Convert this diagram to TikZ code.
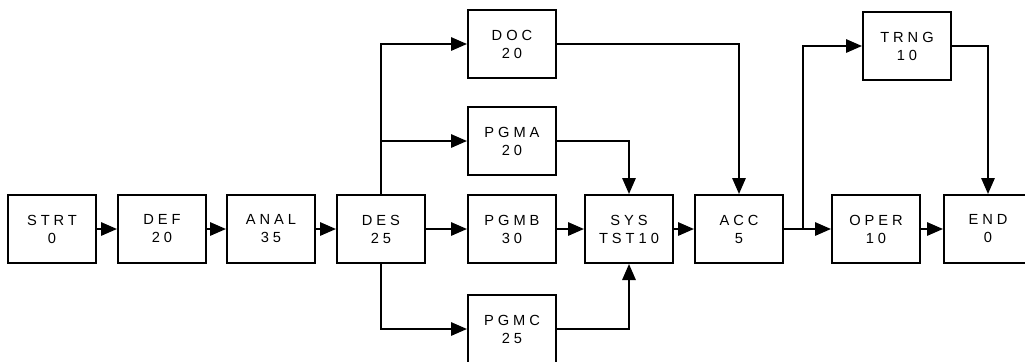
\documentclass[tikz,border=0pt]{standalone}
\usepackage{fontspec}
\newfontfamily\boxfont{Liberation Sans}[LetterSpace=27]
\usetikzlibrary{arrows.meta}

\begin{document}
\begin{tikzpicture} [
                x=0.75pt, y=-0.75pt,
                task/.style = {draw,line width=1.5pt,minimum width=66pt,minimum height=51pt,
                               inner sep=0pt,align=center,font=\boxfont\fontsize{11}{13.5}\selectfont},
                edge/.style = {draw,line width=1.5pt,-{Triangle[length=12pt,width=10pt]}}
            ]
            \useasboundingbox (0,0) rectangle (1025,361);
            % First we draw the tasks
            \foreach \pos/\name/\txt in {
                {(52,229)/strt/STRT\\0}, {(162,229)/def/DEF\\20}, {(271,229)/anal/ANAL\\35},
                {(381,229)/des/DES\\25}, {(512,44)/doc/DOC\\20}, {(512,141)/pgma/PGMA\\20},
                {(512,229)/pgmb/PGMB\\30}, {(512,329)/pgmc/PGMC\\25}, {(629,229)/sys/SYS\\TST10},
                {(739,229)/acc/ACC\\5}, {(907,46)/trng/TRNG\\10}, {(876,229)/oper/OPER\\10},
                {(988,229)/end/END\\0}}
                \node[task] (\name) at \pos {\txt};
            \coordinate (split) at (803,229);
            % Connect tasks in a row
            \foreach \source/ \dest in {strt/def, def/anal, anal/des, des/pgmb,
                                        pgmb/sys, sys/acc, acc/oper, oper/end}
                \path[edge] (\source) -- (\dest);
            % branches and joins
            \path[edge] (des.north) |- (doc);
            \path[edge] (des.north) |- (pgma);
            \path[edge] (des.south) |- (pgmc);
            \path[edge] (doc) -| (acc);
            \path[edge] (pgma) -| (sys);
            \path[edge] (pgmc) -| (sys);
            \path[edge] (split) |- (trng);
            \path[edge] (trng) -| (end);
        \end{tikzpicture}
\end{document}
